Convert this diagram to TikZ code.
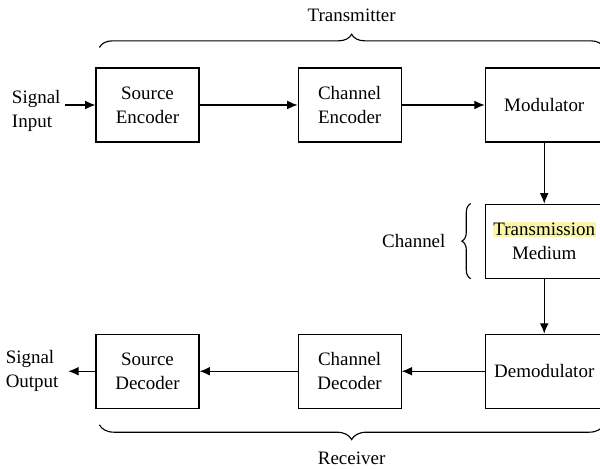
\documentclass[tikz,border=0pt]{standalone}
\usepackage{fontspec}
\setmainfont{Liberation Serif}
\usetikzlibrary{arrows.meta,positioning,calc,decorations.pathreplacing}
\definecolor{Mark}{HTML}{FAF6A8}

\begin{document}
\begin{tikzpicture}[
  box/.style={draw,thick,minimum width=2.575cm,minimum height=1.85cm,align=center,font=\fontsize{13.5}{17}\selectfont},
  widebox/.style={box,minimum width=2.95cm},
  txt/.style={align=left,font=\fontsize{13.5}{17}\selectfont},
  arrow/.style={-{Latex[length=2.6mm,width=2.2mm]},thick},
  brace/.style={decorate,decoration={brace,amplitude=#1},thick}
]
  \useasboundingbox (0,0) rectangle (15,11.725);
  % transmitter row
  \node[box] (srcenc) at (3.6875,9.1) {Source\\Encoder};
  \node[box,right=2.45cm of srcenc] (chenc) {Channel\\Encoder};
  \node[widebox,right=2.075cm of chenc] (mod) {Modulator};
  \node[widebox,below=1.525cm of mod] (medium) {{\setlength{\fboxsep}{0.6pt}\colorbox{Mark}{Transmission}}\\Medium};
  % receiver row
  \node[widebox,below=1.375cm of medium] (demod) {Demodulator};
  \node[box,left=2.075cm of demod] (chdec) {Channel\\Decoder};
  \node[box,left=2.45cm of chdec] (srcdec) {Source\\Decoder};
  \node[txt,left=0.75cm of srcenc,yshift=-0.15cm] (sigin) {Signal\\Input};
  \node[txt,left=0.8cm of srcdec] (sigout) {Signal\\Output};
  \draw[arrow] (sigin.east |- srcenc) -- (srcenc);
  \draw[arrow] (srcenc) -- (chenc);
  \draw[arrow] (chenc) -- (mod);
  \draw[arrow] (mod) -- (medium);
  \draw[arrow] (medium) -- (demod);
  \draw[arrow] (demod) -- (chdec);
  \draw[arrow] (chdec) -- (srcdec);
  \draw[arrow,shorten >=0.12cm] (srcdec) -- (sigout.east |- srcdec);
  % braces
  \coordinate (txl) at ($(srcenc.north west)+(0.1,0.5)$);
  \coordinate (txr) at ($(mod.north east)+(0,0.5)$);
  \draw[brace=0.33cm] (txl) -- node[txt,above=0.5cm] (tx) {Transmitter} (txr);
  \coordinate (rxl) at ($(demod.south east)+(0,-0.4)$);
  \coordinate (rxr) at ($(srcdec.south west)+(0.1,-0.4)$);
  \draw[brace=0.37cm] (rxl) -- node[txt,below=0.55cm] (rx) {Receiver} (rxr);
  \coordinate (chb) at ($(medium.south west)+(-0.35,0)$);
  \coordinate (cht) at ($(medium.north west)+(-0.35,0)$);
  \draw[brace=0.22cm] (chb) -- node[txt,left=0.5cm] (ch) {Channel} (cht);
\end{tikzpicture}
\end{document}
